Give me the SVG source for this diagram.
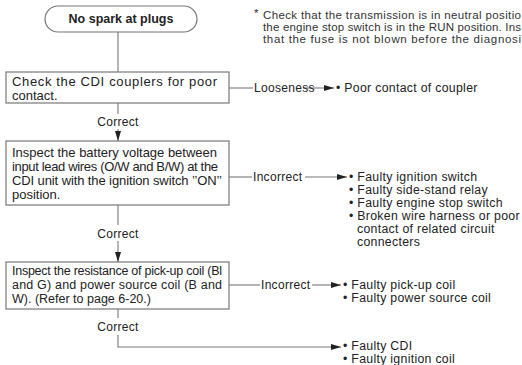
<svg xmlns="http://www.w3.org/2000/svg" width="522" height="365" viewBox="0 0 522 365">
<defs>
<marker id="ah" viewBox="0 0 10 6" refX="10" refY="3" markerWidth="10" markerHeight="6" markerUnits="userSpaceOnUse" orient="auto">
<path d="M0,0 L10,3 L0,6 z" fill="#222"/>
</marker>
<style>
text{font-family:"Liberation Sans",Arial,sans-serif;fill:#222}
.box{fill:#fff;stroke:#777;stroke-width:1.2}
.bt{font-size:13px}
.bt3{font-size:12.5px}
.lb{font-size:12px;letter-spacing:0.3px}
.rt{font-size:12.3px;letter-spacing:0.3px}
.note{font-size:11.5px;fill:#333}
.c{fill:none;stroke:#777;stroke-width:1.1}
.ca{fill:none;stroke:#777;stroke-width:1.1;marker-end:url(#ah)}
</style>
</defs>
<rect width="522" height="365" fill="#fff"/>
<g id="note">
<text class="note" x="254" y="17">*</text>
<text class="note" x="263" y="19" textLength="258" lengthAdjust="spacing">Check that the transmission is in neutral positio</text>
<text class="note" x="263" y="31" textLength="258" lengthAdjust="spacing">the engine stop switch is in the RUN position. Ins</text>
<text class="note" x="263" y="43" textLength="258" lengthAdjust="spacing">that the fuse is not blown before the diagnosi</text>
</g>
<g id="connectors">
<line class="c" x1="118" y1="32" x2="118" y2="72"/>
<line class="c" x1="118" y1="103" x2="118" y2="114"/>
<line class="ca" x1="118" y1="129" x2="118" y2="141"/>
<line class="c" x1="118" y1="205" x2="118" y2="225"/>
<line class="ca" x1="118" y1="241" x2="118" y2="262"/>
<line class="c" x1="118" y1="309" x2="118" y2="318"/>
<polyline class="ca" points="118,335 118,347 341,347"/>
<line class="c" x1="229" y1="88" x2="253" y2="88"/>
<line class="ca" x1="303" y1="88" x2="334" y2="88"/>
<line class="c" x1="229" y1="177" x2="252" y2="177"/>
<line class="ca" x1="305" y1="177" x2="347" y2="177"/>
<line class="c" x1="229" y1="285" x2="260" y2="285"/>
<line class="ca" x1="312" y1="285" x2="341" y2="285"/>
<text class="lb" x="118" y="126" text-anchor="middle">Correct</text>
<text class="lb" x="118" y="238" text-anchor="middle">Correct</text>
<text class="lb" x="118" y="331" text-anchor="middle">Correct</text>
<text class="lb" x="254" y="92">Looseness</text>
<text class="lb" x="253" y="181">Incorrect</text>
<text class="lb" x="261" y="289">Incorrect</text>
</g>
<g id="start">
<rect class="box" x="45" y="6" width="152" height="26" rx="13"/>
<text x="121" y="23" text-anchor="middle" style="font-size:12.5px;font-weight:bold">No spark at plugs</text>
</g>
<g id="check-couplers">
<rect class="box" x="6" y="72" width="223" height="31"/>
<text class="bt" x="12" y="86" textLength="205" lengthAdjust="spacing">Check the CDI couplers for poor</text>
<text class="bt" x="12" y="100">contact.</text>
</g>
<g id="inspect-battery">
<rect class="box" x="6" y="141" width="223" height="64"/>
<text class="bt" x="12" y="157" textLength="205" lengthAdjust="spacing">Inspect the battery voltage between</text>
<text class="bt" x="12" y="171" textLength="206" lengthAdjust="spacing">input lead wires (O/W and B/W) at the</text>
<text class="bt" x="12" y="185" textLength="210" lengthAdjust="spacing">CDI unit with the ignition switch ’’ON’’</text>
<text class="bt" x="12" y="199">position.</text>
</g>
<g id="inspect-coils">
<rect class="box" x="6" y="262" width="223" height="47"/>
<text class="bt3" x="12" y="275" textLength="210" lengthAdjust="spacing">Inspect the resistance of pick-up coil (Bl</text>
<text class="bt3" x="12" y="289" textLength="210" lengthAdjust="spacing">and G) and power source coil (B and</text>
<text class="bt3" x="12" y="303">W). (Refer to page 6-20.)</text>
</g>
<g id="result-coupler">
<text class="rt" x="336" y="92">• Poor contact of coupler</text>
</g>
<g id="result-switch">
<text class="rt" x="349" y="181">• Faulty ignition switch</text>
<text class="rt" x="349" y="194">• Faulty side-stand relay</text>
<text class="rt" x="349" y="207">• Faulty engine stop switch</text>
<text class="rt" x="349" y="220">• Broken wire harness or poor</text>
<text class="rt" x="357" y="233">contact of related circuit</text>
<text class="rt" x="357" y="246">connecters</text>
</g>
<g id="result-coil">
<text class="rt" x="343" y="289">• Faulty pick-up coil</text>
<text class="rt" x="343" y="302">• Faulty power source coil</text>
</g>
<g id="result-cdi">
<text class="rt" x="343" y="350">• Faulty CDI</text>
<text class="rt" x="343" y="363">• Faulty ignition coil</text>
</g>
</svg>
